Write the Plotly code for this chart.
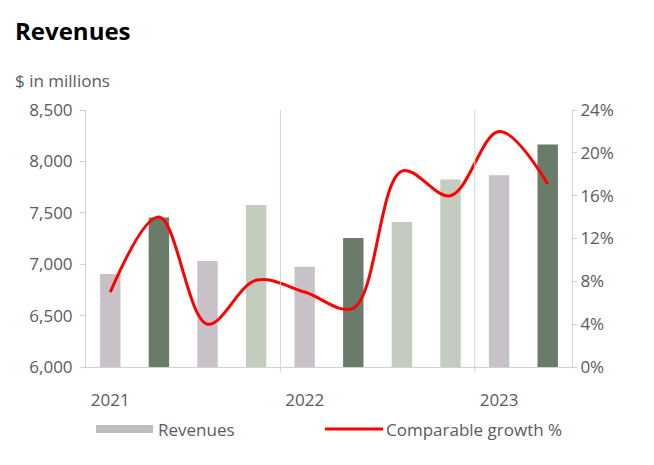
import plotly.graph_objects as go

quarters = ["Q1 2021", "Q2 2021", "Q3 2021", "Q4 2021",
            "Q1 2022", "Q2 2022", "Q3 2022", "Q4 2022",
            "Q1 2023", "Q2 2023"]
revenues = [6905, 7455, 7030, 7575, 6975, 7255, 7410, 7825, 7865, 8165]
growth = [7.0, 14.0, 4.0, 8.1, 7.0, 5.5, 18.3, 16.0, 22.0, 17.1]
year_tick_vals = ["Q1 2021", "Q1 2022", "Q1 2023"]
year_tick_text = ["2021", "2022", "2023"]

bar_colors = ["#c9c1c8", "#6b7b69", "#c9c1c8", "#c4ccc0", "#c9c1c8",
              "#6b7b69", "#c4ccc0", "#c4ccc0", "#c9c1c8", "#6b7b69"]

font_family = "Open Sans, Noto Sans, sans-serif"
tick_color = "#5a5a62"
axis_color = "#d2d2d2"
FS = 17

# page body has an 8px default margin; figure is sized so the plot lands where the reference has it
W, H = 646, 457
L, T = 78, 102           # plot left/top in figure pixels
PW, PH = 486, 257        # plot width/height


def px(x):  # figure x pixel -> paper
    return (x - L) / PW


def py(y):  # figure y pixel -> paper
    return (T + PH - y) / PH


fig = go.Figure()
fig.add_trace(go.Bar(
    x=quarters, y=revenues, name="Revenues",
    marker=dict(color=bar_colors, line=dict(width=0)),
    showlegend=False,
))
fig.add_trace(go.Scatter(
    x=quarters, y=growth, name="Comparable growth %", yaxis="y2",
    mode="lines", line=dict(color="#ff0000", width=3, shape="spline", smoothing=1.0),
    showlegend=False,
))

# year dividers
for xv in [3.5, 7.5]:
    fig.add_shape(type="line", xref="x", yref="paper", x0=xv, x1=xv, y0=-0.02, y1=1,
                  line=dict(color="#cfd6cf", width=1))

# custom legend (reference pixel coords minus 8)
fig.add_shape(type="rect", xref="paper", yref="paper",
              x0=px(88), x1=px(145), y0=py(425), y1=py(417),
              fillcolor="#bdbdbd", line=dict(width=0))
fig.add_annotation(xref="paper", yref="paper", x=px(148), y=py(421),
                   text="Revenues", showarrow=False, xanchor="left", yanchor="middle",
                   font=dict(family=font_family, size=FS, color=tick_color))
fig.add_shape(type="line", xref="paper", yref="paper",
              x0=px(317), x1=px(375), y0=py(421), y1=py(421),
              line=dict(color="#ff0000", width=3))
fig.add_annotation(xref="paper", yref="paper", x=px(376), y=py(421),
                   text="Comparable growth %", showarrow=False, xanchor="left", yanchor="middle",
                   font=dict(family=font_family, size=FS, color=tick_color))
fig.add_annotation(xref="paper", yref="paper", x=px(5), y=py(72),
                   text="$ in millions", showarrow=False, xanchor="left", yanchor="middle",
                   font=dict(family=font_family, size=FS, color=tick_color))

fig.update_layout(
    width=W, height=H,
    margin=dict(l=L, r=W - L - PW, t=T, b=H - T - PH),
    paper_bgcolor="white", plot_bgcolor="white",
    bargap=0.58,
    font=dict(family=font_family, size=FS, color=tick_color),
    title=dict(text="<b>Revenues</b>", x=7 / W, xanchor="left", y=1 - 24 / H, yanchor="middle",
               font=dict(family=font_family, size=24, color="#000000")),
    xaxis=dict(
        type="category", categoryorder="array", categoryarray=quarters,
        tickmode="array", tickvals=year_tick_vals, ticktext=year_tick_text,
        showgrid=False, showline=True, linecolor=axis_color, linewidth=1,
        ticks="", ticklabelstandoff=18, tickfont=dict(size=FS, color=tick_color),
        range=[-0.5, 9.5],
    ),
    yaxis=dict(
        range=[6000, 8500], dtick=500, tickformat=",d",
        showgrid=False, showline=True, linecolor=axis_color, linewidth=1,
        ticks="outside", ticklen=5, tickcolor=axis_color, ticklabelstandoff=4,
        tickfont=dict(size=FS, color=tick_color), zeroline=False,
    ),
    yaxis2=dict(
        range=[0, 24], dtick=4, ticksuffix="%", overlaying="y", side="right",
        showgrid=False, showline=True, linecolor=axis_color, linewidth=1,
        ticks="outside", ticklen=4, tickcolor=axis_color,
        tickfont=dict(size=FS, color=tick_color), zeroline=False,
    ),
)

fig.write_html("out.html")
